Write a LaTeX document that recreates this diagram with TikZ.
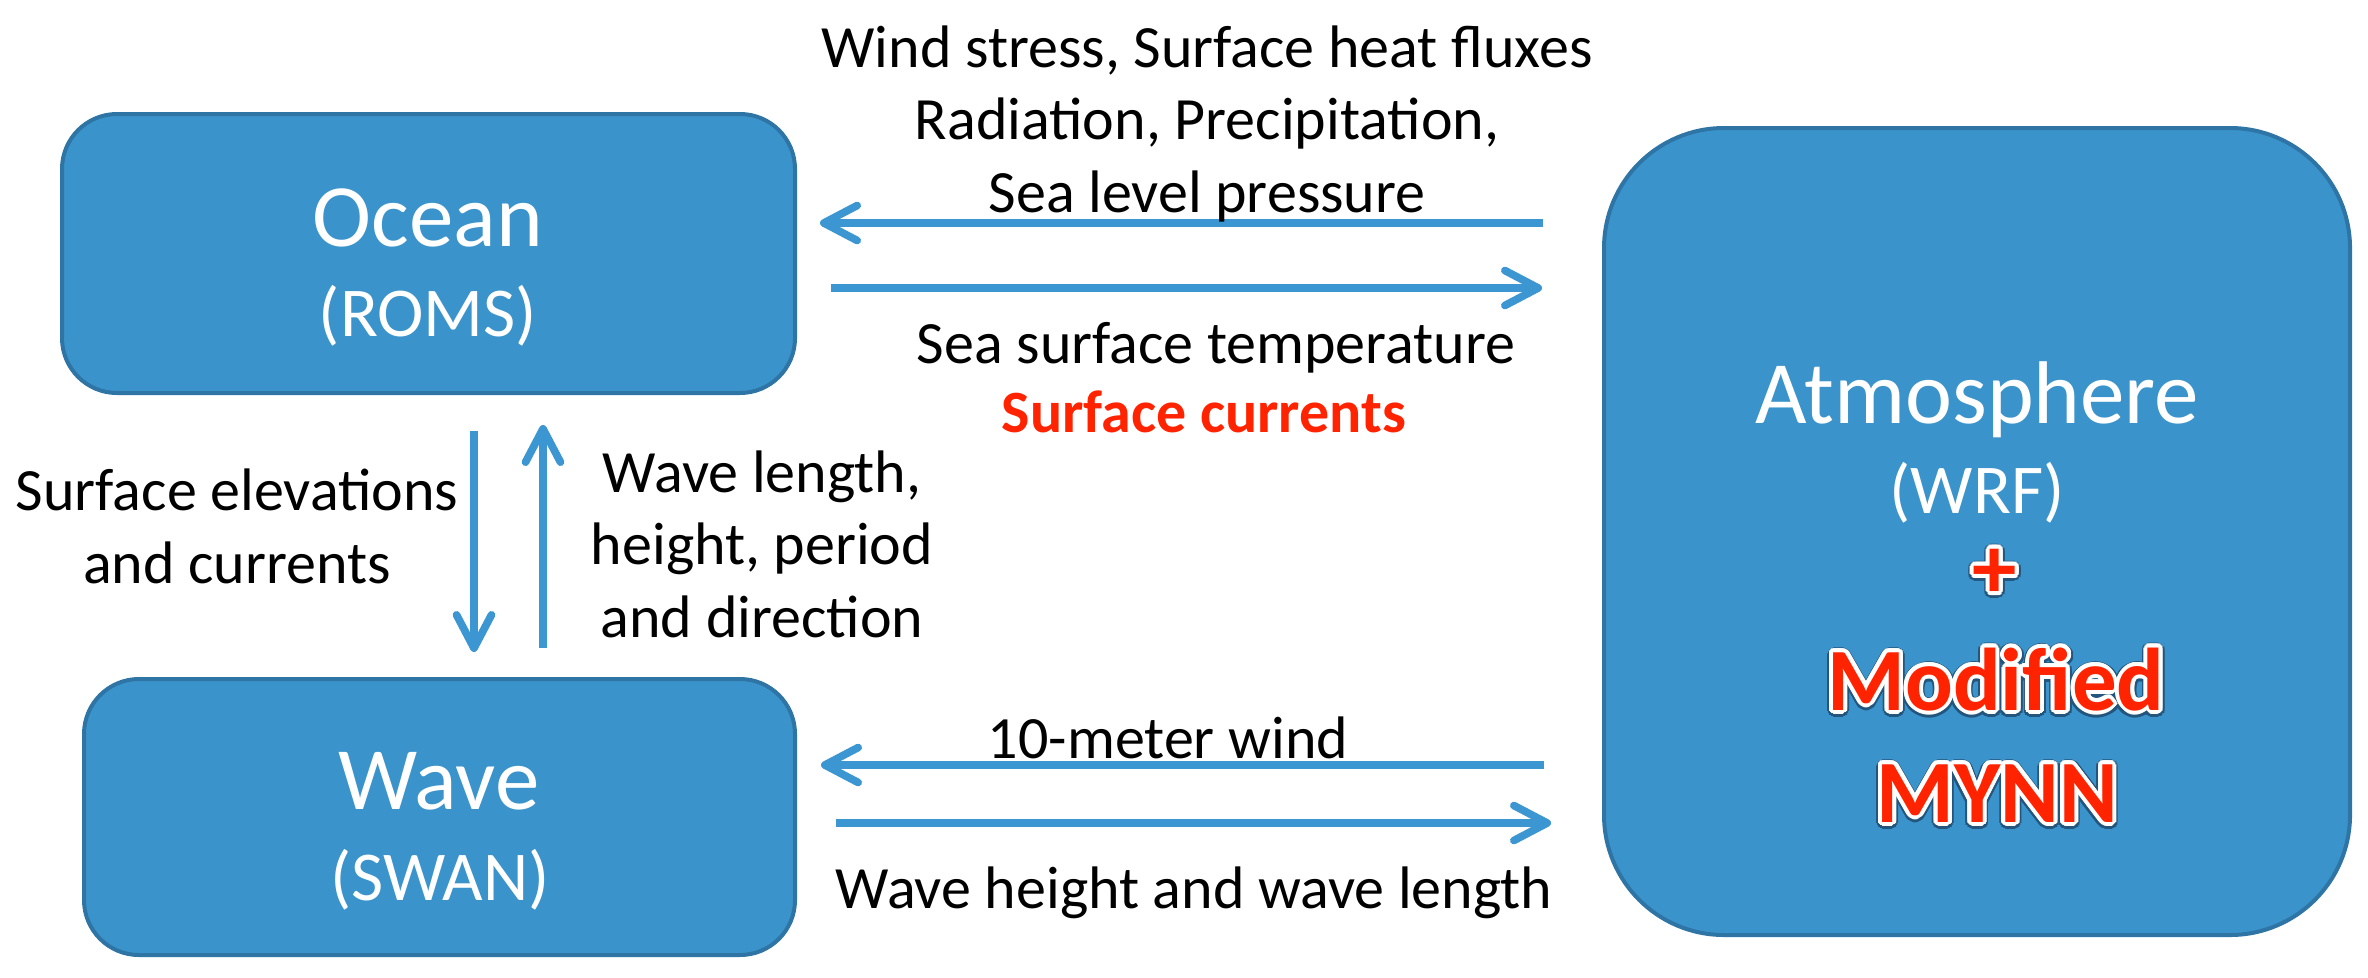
\documentclass[tikz,border=0pt]{standalone}
\usepackage{fontspec}
\setmainfont{Carlito}
\usetikzlibrary{arrows.meta,calc}
\definecolor{boxfill}{RGB}{58,148,203}
\definecolor{boxedge}{RGB}{46,117,166}
\definecolor{arrowc}{RGB}{59,150,210}
\definecolor{redtxt}{RGB}{255,35,0}
\definecolor{shadowc}{RGB}{35,85,125}
\newcommand\outlined[1]{%
  \leavevmode
  \foreach \ang in {0,22.5,...,337.5}{%
    \pgfmathsetlengthmacro\dx{1.7pt*cos(\ang)}%
    \pgfmathsetlengthmacro\dy{1.7pt*sin(\ang)-0.4pt}%
    \rlap{\hspace*{\dx}\raisebox{\dy}{\textcolor{shadowc}{#1}}}}%
  \foreach \ang in {0,22.5,...,337.5}{%
    \pgfmathsetlengthmacro\dx{1.2pt*cos(\ang)}%
    \pgfmathsetlengthmacro\dy{1.2pt*sin(\ang)}%
    \rlap{\hspace*{\dx}\raisebox{\dy}{\textcolor{white}{#1}}}}%
  \textcolor{redtxt}{#1}}
\begin{document}
\begin{tikzpicture}[x=0.3pt,y=-0.3pt,
  modbox/.style={draw=boxedge, fill=boxfill, line width=1.2pt, inner sep=0pt},
  arr/.style={draw=arrowc, line width=2.3pt, -{Straight Barb[length=10pt,width=10.5pt,round]}},
  lbl/.style={font=\fontsize{18}{21.75}\selectfont, align=center, inner sep=0pt, anchor=base},
  ttl/.style={text=white, font=\fontsize{26.7}{28}\selectfont, inner sep=0pt, anchor=base},
  sub/.style={text=white, font=\fontsize{21}{24}\selectfont, inner sep=0pt, anchor=base},
  hl/.style={font=\bfseries\fontsize{26.7}{28}\selectfont, inner sep=0pt, anchor=base}
]
\fill[white] (0,0) rectangle (2368,977);
\useasboundingbox (0,0) rectangle (2368,977);

% boxes
\node[modbox, rounded corners=16.5pt, minimum width=219.9pt, minimum height=83.7pt] (ocean) at (428.5,253.5) {};
\node[modbox, rounded corners=16.5pt, minimum width=213.3pt, minimum height=82.8pt] (wave) at (439.5,817) {};
\node[modbox, rounded corners=36pt, minimum width=223.8pt, minimum height=242.1pt] (atm) at (1977,531.5) {};

% box texts
\node[ttl] (oceant) at (428,246) {Ocean};
\node[sub] (oceans) at (428,336) {(ROMS)};
\node[ttl] (wavet) at (439,809) {Wave};
\node[sub] (waves) at (440,900) {(SWAN)};
\node[ttl] (atmt) at (1977,423) {Atmosphere};
\node[sub] (atms) at (1977,513) {(WRF)};
\node[hl, anchor=center] (plus) at (1995,575) {\outlined{+}};
\node[hl] (modt) at (1996,710) {\outlined{Modified}};
\node[hl] (mynn) at (1997,822) {\outlined{MYNN}};

% arrow levels
\coordinate (y1) at (0,223);
\coordinate (y2) at (0,288);
\coordinate (y3) at (0,765);
\coordinate (y4) at (0,823);
\coordinate (x5) at (474,0);
\coordinate (x6) at (543,0);

\draw[arr, shorten <=17.7pt, shorten >=6.9pt] (atm.west |- y1) -- (ocean.east |- y1);
\draw[arr, shorten <=10.2pt, shorten >=18pt] (ocean.east |- y2) -- (atm.west |- y2);
\draw[arr, shorten <=17.4pt, shorten >=7.2pt] (atm.west |- y3) -- (wave.east |- y3);
\draw[arr, shorten <=11.7pt, shorten >=15.3pt] (wave.east |- y4) -- (atm.west |- y4);
\draw[arr, shorten <=10.8pt, shorten >=7.5pt] (ocean.south -| x5) -- (wave.north -| x5);
\draw[arr, shorten <=8.7pt, shorten >=9pt] (wave.north -| x6) -- (ocean.south -| x6);

% labels (multi-line nodes: base = last line)
\node[lbl] (l1) at (1207,212) {Wind stress, Surface heat fluxes\\Radiation, Precipitation,\\Sea level pressure};
\node[lbl] (l2) at (1216,363) {Sea surface temperature};
\node[lbl, text=redtxt, font=\bfseries\fontsize{18}{21.75}\selectfont] (l3) at (1204,432) {Surface currents};
\node[lbl] (l4) at (237,583) {Surface elevations\\and currents};
\node[lbl] (l5) at (762,637) {Wave length,\\height, period\\and direction};
\node[lbl] (l6) at (1168,758) {10-meter wind};
\node[lbl] (l7) at (1194,908) {Wave height and wave length};
\end{tikzpicture}
\end{document}
